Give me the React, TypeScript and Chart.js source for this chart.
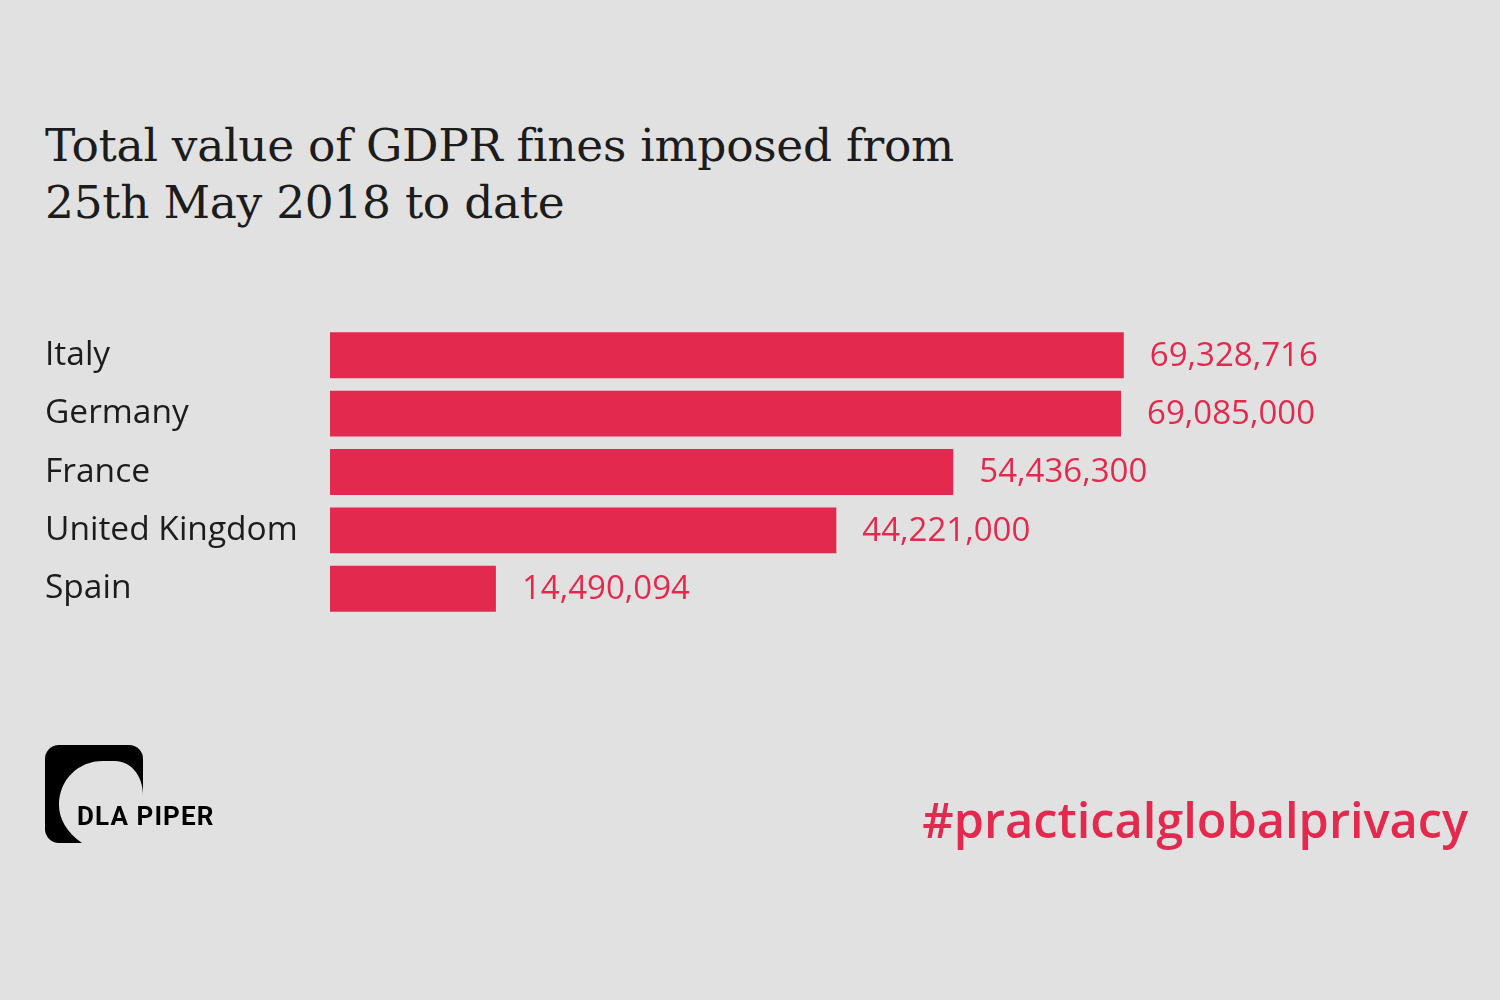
import React, { useEffect, useRef } from "react";
import { Chart, registerables } from "chart.js";

Chart.register(...registerables);

const countries = ["Italy", "Germany", "France", "United Kingdom", "Spain"];
const fines = [69328716, 69085000, 54436300, 44221000, 14490094];
const titleLines = ["Total value of GDPR fines imposed from", "25th May 2018 to date"];
const hashtag = "#practicalglobalprivacy";
const brand = "DLA PIPER";

const RED = "#e4294f";
const BG = "#e1e1e1";
const INK = "#1c1c1c";

const valueLabels = {
  id: "valueLabels",
  afterDatasetsDraw(chart: any) {
    const ctx = chart.ctx;
    const meta = chart.getDatasetMeta(0);
    ctx.save();
    ctx.font = '33px "Open Sans"';
    ctx.fillStyle = RED;
    ctx.textBaseline = "middle";
    ctx.textAlign = "left";
    meta.data.forEach((bar: any, i: number) => {
      ctx.fillText(fines[i].toLocaleString("en-US"), bar.x + 26, bar.y + 1);
    });
    ctx.restore();
  },
};

export default function App() {
  const ref = useRef<HTMLCanvasElement>(null);
  useEffect(() => {
    if (!ref.current) return;
    const chart = new Chart(ref.current, {
      type: "bar",
      data: {
        labels: countries,
        datasets: [
          {
            data: fines,
            backgroundColor: RED,
            borderWidth: 0,
            barPercentage: 0.786,
            categoryPercentage: 1,
          },
        ],
      },
      options: {
        indexAxis: "y",
        animation: false,
        responsive: false,
        devicePixelRatio: 1,
        layout: { padding: { left: 45, top: 326, bottom: 382, right: 25 } },
        plugins: { legend: { display: false }, tooltip: { enabled: false } },
        scales: {
          x: { display: false, min: 0, max: 100000000 },
          y: {
            grid: { display: false },
            border: { display: false },
            afterFit: (s: any) => {
              s.width = 285;
            },
            ticks: {
              crossAlign: "far",
              padding: 0,
              color: INK,
              font: { family: "Open Sans", size: 33.5 },
            },
          },
        },
      },
      plugins: [valueLabels],
    });
    return () => chart.destroy();
  }, []);

  return (
    <div
      style={{
        position: "fixed",
        left: 0,
        top: 0,
        width: 1500,
        height: 1000,
        background: BG,
        overflow: "hidden",
      }}
    >
      <div
        style={{
          position: "absolute",
          left: 45,
          top: 117,
          fontFamily: '"DejaVu Serif"',
          fontSize: 45.5,
          lineHeight: "57px",
          color: INK,
          letterSpacing: "-0.3px",
          whiteSpace: "nowrap",
        }}
      >
        {titleLines.map((l, i) => (
          <div key={i}>{l}</div>
        ))}
      </div>
      <canvas ref={ref} width={1500} height={1000} style={{ position: "absolute", left: 0, top: 0 }} />
      <svg width={260} height={140} style={{ position: "absolute", left: 0, top: 720 }} viewBox="0 720 260 140">
        <rect x={45} y={745} width={98} height={98} rx={14} fill="#000" />
        <path
          d="M 82 843 C 66 832 59 818 59 805 C 59 780 78 761 103 761 L 115 761 C 130 761 143 775 143 795 L 220 795 L 220 860 L 82 860 Z"
          fill={BG}
        />
        <text
          x={77}
          y={825}
          fontFamily="Roboto"
          fontWeight={700}
          fontSize={26}
          letterSpacing={1.1}
          fill="#000"
        >
          {brand}
        </text>
      </svg>
      <div
        style={{
          position: "absolute",
          right: 32,
          top: 786,
          fontFamily: '"Open Sans"',
          fontWeight: 600,
          fontSize: 48.7,
          color: RED,
          whiteSpace: "nowrap",
        }}
      >
        {hashtag}
      </div>
    </div>
  );
}
